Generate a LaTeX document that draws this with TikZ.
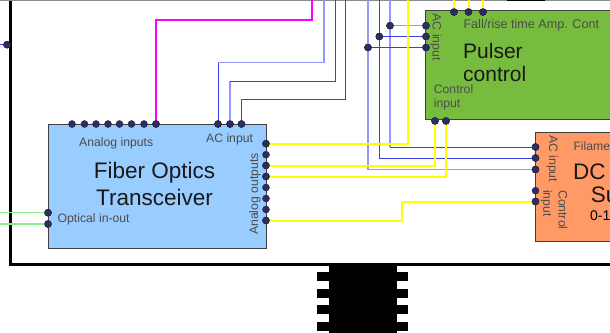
\documentclass[tikz,border=0pt]{standalone}
\usepackage{fontspec}
\setmainfont{Liberation Sans}
\definecolor{pindark}{RGB}{45,45,95}
\definecolor{boxblue}{RGB}{153,204,255}
\definecolor{boxgreen}{RGB}{119,188,63}
\definecolor{boxorange}{RGB}{255,153,102}
\definecolor{wireyellow}{RGB}{255,255,0}
\definecolor{wiremagenta}{RGB}{255,0,255}
\definecolor{wireblue}{RGB}{60,60,230}
\definecolor{wirelight}{RGB}{150,150,255}
\definecolor{wiregreen}{RGB}{140,240,140}
\tikzset{
pin/.style = {circle, fill=pindark, draw=pindark!70!black, minimum size=#1,
              inner sep=0pt, outer sep=0pt},
pin/.default = 7pt,
block/.style = {draw=black!75, line width=0.8pt, inner sep=0pt, outer sep=0pt},
lab/.style = {text=black!70, font=\fontsize{12.2}{14}\selectfont, inner sep=0pt},
ttl/.style = {text=black!90, font=\fontsize{22.5}{27}\selectfont, inner sep=0pt},
yel/.style = {draw=wireyellow, line width=2pt},
blu/.style = {draw=wireblue, line width=1pt},
lblu/.style = {draw=wirelight, line width=1.5pt},
mag/.style = {draw=wiremagenta, line width=2pt},
grn/.style = {draw=wiregreen, line width=1.3pt},
}
\newcommand{\vtx}[2]{\node[pin] (#1) at (#2) {};}
\begin{document}
\begin{tikzpicture}[x=1pt,y=-1pt]
    \useasboundingbox (0,0) rectangle (610,332);
    \begin{scope}
    \clip (0,0) rectangle (610,332);
    % frame and chip
    \fill[black] (328.5,264) rectangle (396.7,340);
    \foreach \py in {271.5,289.3,304.5,321.7} {
        \fill[black] (316.7,\py) rectangle (408.3,\py+9);
    }
    \draw[line width=3pt] (10.2,-5) |- (615,264.2);
    \draw[black!45, line width=1pt] (0,0) -- (610,0);
    \fill[black] (507,0) rectangle (545,1);
    % blocks
    \node[block, fill=boxblue, minimum width=218pt, minimum height=124pt, anchor=north west] (fiber) at (48,124) {};
    \node[block, fill=boxgreen, minimum width=200pt, minimum height=109pt, anchor=north west] (pulser) at (425.7,10.5) {};
    \node[block, fill=boxorange, minimum width=100pt, minimum height=109pt, anchor=north west] (supply) at (535.7,132.3) {};
    % pins on the transceiver
    \foreach \n/\px in {a/72,b/84.5,c/96,d/108,e/119.5,f/131.5,g/144,h/156} {
        \vtx{in\n}{\px,124}
    }
    \foreach \n/\px in {a/218,b/230,c/241.5} {
        \vtx{ac\n}{\px,124}
    }
    \foreach \n/\py in {a/143.7,b/154.7,c/165.5,d/176.5,e/187.5,f/198.5,g/209.5,h/220.5} {
        \vtx{out\n}{266,\py}
    }
    \vtx{opta}{48,212.7}
    \vtx{optb}{48,224}
    % pins on the pulser
    \vtx{pta}{454,12}
    \vtx{ptb}{468.5,12}
    \vtx{ptc}{483,12}
    \vtx{pla}{426,25.7}
    \vtx{plb}{426,36.5}
    \vtx{plc}{426,47.5}
    \vtx{pba}{435,121}
    \vtx{pbb}{446,121}
    % junctions
    \vtx{ja}{390,25.7}
    \vtx{jb}{379.3,36.5}
    \vtx{jc}{368,47.5}
    % pins on the supply
    \vtx{sa}{535.5,147}
    \vtx{sb}{535.5,158}
    \vtx{sc}{535.5,169.5}
    \vtx{sd}{535.5,190.7}
    \vtx{se}{535.5,201.5}
    \vtx{edge}{7,44.7}
    % free ends
    \coordinate (tm) at (311.5,-2);
    \coordinate (tya) at (408,-2);
    \coordinate (t1) at (324,-2);
    \coordinate (t2) at (335.5,-2);
    \coordinate (t3) at (345.5,-2);
    \coordinate (tj1) at (390,-2);
    \coordinate (tj2) at (379.3,-2);
    \coordinate (tj3) at (368,-2);
    \coordinate (tpa) at (454,-2);
    \coordinate (tpb) at (468.5,-2);
    \coordinate (tpc) at (483,-2);
    \coordinate (ga) at (-2,212.7);
    \coordinate (gb) at (-2,224);
    \coordinate (lb) at (-2,44.7);
    % connectors
    \draw[mag] (inh.center) |- (311.5,20) -- (tm);
    \draw[blu] (aca.center) -- (218,62.5);
    \draw[lblu] (218,62.5) -| (t1);
    \draw[lblu] (acb.center) -- (230,81);
    \draw[blu] (230,81) -| (t2);
    \draw[blu] (acc.center) |- (345.5,99) -- (t3);
    \draw[lblu] (tj1) -- (390,147);
    \draw[blu] (390,147) -- (sa.center);
    \draw[blu] (tj2) |- (sb.center);
    \draw[lblu] (tj3) |- (sc.center);
    \draw[lblu] (ja) -- (pla);
    \draw[blu] (jb) -- (plb);
    \draw[blu] (jc) -- (plc);
    \draw[yel] (outa.center) -| (tya);
    \draw[yel] (outc.center) -| (pba.center);
    \draw[yel] (outd.center) -| (pbb.center);
    \draw[yel] (outh.center) -- (401.7,220.5) |- (se.center);
    \draw[yel] (pta.center) -- (tpa);
    \draw[yel] (ptb.center) -- (tpb);
    \draw[yel] (ptc.center) -- (tpc);
    \draw[grn] (opta) -- (ga);
    \draw[grn] (optb) -- (gb);
    \draw[blu] (edge) -- (lb);
    % pins again, above the wires
    \foreach \n in {inh,aca,acb,acc,outa,outc,outd,outh,opta,optb,pta,ptb,ptc,pla,plb,plc,pba,pbb,ja,jb,jc,sa,sb,sc,se,edge} {
        \node[pin] at (\n.center) {};
    }
    % labels
    \node[ttl, align=center, anchor=base] (fibertitle) at (154.5,205) {Fiber Optics\\Transceiver};
    \node[ttl, align=left, anchor=base west, font=\fontsize{21}{23}\selectfont] (pulsertitle) at (463,81) {Pulser\\control};
    \node[lab, anchor=base west] (inlab) at (79,146.7) {Analog inputs};
    \node[lab, anchor=base west] (aclab) at (206,142.7) {AC input};
    \node[lab, anchor=base west] (optlab) at (57.5,222.7) {Optical in-out};
    \node[lab, rotate=90, anchor=base west] (outlab) at (258,235) {Analog outputs};
    \node[lab, rotate=-90, anchor=base west] (pacl) at (432.7,13.5) {AC input};
    \node[lab, anchor=base west, font=\fontsize{12.6}{14}\selectfont] (fall) at (463.3,28) {Fall/rise time Amp. Cont};
    \node[lab, anchor=base west] (ctla) at (433.7,93.3) {Control};
    \node[lab, anchor=base west] (ctlb) at (433.7,107.5) {input};
    \node[lab, rotate=-90, anchor=base west] (sacl) at (549,135) {AC input};
    \node[lab, rotate=-90, anchor=base west] (sctla) at (558.5,190) {Control};
    \node[lab, rotate=-90, anchor=base west] (sctlb) at (543.3,190) {input};
    \node[lab, anchor=base west] (fil) at (573.3,150) {Filame};
    \node[ttl, anchor=base west] (dc) at (573,179) {DC};
    \node[ttl, anchor=base west] (su) at (590.7,202.7) {Su};
    \node[lab, anchor=base west, text=black, font=\fontsize{14}{16}\selectfont] (rng) at (590,220) {0-1};
    \end{scope}
\end{tikzpicture}
\end{document}
